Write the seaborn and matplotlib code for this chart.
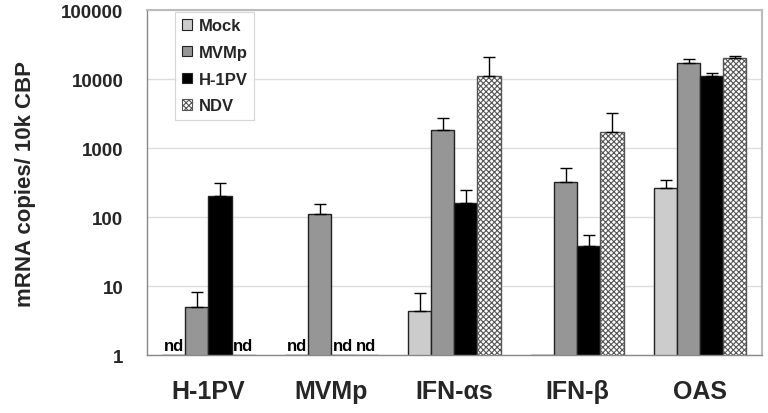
import numpy as np
import pandas as pd
import matplotlib
matplotlib.use("Agg")
import matplotlib.pyplot as plt
import seaborn as sns
from matplotlib.patches import Patch

genes = ["H-1PV", "MVMp", "IFN-\u03b1s", "IFN-\u03b2", "OAS"]
treatments = ["Mock", "MVMp", "H-1PV", "NDV"]
# mean values (None = not detected, "nd")
mock = [None, None, 4.3, 1.0, 260]
mvmp = [5.0, 112, 1820, 318, 16900]
h1pv = [205, None, 161, 38.5, 11000]
ndv = [None, None, 10900, 1690, 19900]
# upper end of error bars
mock_err = [None, None, 7.8, None, 344]
mvmp_err = [8.1, 156, 2720, 507, 19700]
h1pv_err = [308, None, 249, 55, 12300]
ndv_err = [None, None, 20600, 3180, 21300]

colors = {"Mock": "#cccccc", "MVMp": "#969696", "H-1PV": "#000000", "NDV": "#ffffff"}

series = {"Mock": mock, "MVMp": mvmp, "H-1PV": h1pv, "NDV": ndv}
errs = {"Mock": mock_err, "MVMp": mvmp_err, "H-1PV": h1pv_err, "NDV": ndv_err}

rows = []
for t in treatments:
    for g, v, e in zip(genes, series[t], errs[t]):
        rows.append({"gene": g, "treatment": t,
                     "value": np.nan if v is None else v,
                     "err": np.nan if e is None else e})
df = pd.DataFrame(rows)
df["plotval"] = df["value"].fillna(1.0)

sns.set_theme(style="white")
plt.rcParams["font.family"] = ["Liberation Sans", "DejaVu Sans"]
plt.rcParams["font.weight"] = "bold"
plt.rcParams["hatch.linewidth"] = 0.8

fig = plt.figure(figsize=(7.68, 4.14), dpi=100)
ax = fig.add_axes([0.1914, 0.140, 0.8006, 0.8334])
ax.set_yscale("log")

sns.barplot(data=df, x="gene", y="plotval", hue="treatment", order=genes,
            hue_order=treatments, palette=colors, width=0.75, gap=0,
            edgecolor="#222222", linewidth=1.0, ax=ax, legend=False,
            errorbar=None, saturation=1)

for cont, t in zip(ax.containers, treatments):
    sub = df[df.treatment == t].set_index("gene").loc[genes]
    for bar, (g, r) in zip(cont.patches, sub.iterrows()):
        xc = bar.get_x() + bar.get_width() / 2
        if t == "NDV":
            bar.set_hatch("xxxxxx")
            bar.set_edgecolor("#555555")
        if np.isnan(r["value"]):
            ax.text(xc, 1.07, "nd", ha="center", va="bottom", fontsize=12,
                    fontweight="bold", color="black")
        elif not np.isnan(r["err"]):
            ax.errorbar([xc], [r["value"]], yerr=[[0], [r["err"] - r["value"]]],
                        fmt="none", ecolor="black", elinewidth=1.0, capsize=4,
                        capthick=1.0, zorder=3)

ax.set_ylim(1, 100000)
ax.set_xlim(-0.5, 4.5)
ax.set_yticks([1, 10, 100, 1000, 10000, 100000])
ax.set_yticklabels(["1", "10", "100", "1000", "10000", "100000"])
ax.yaxis.set_minor_locator(matplotlib.ticker.NullLocator())
ax.grid(axis="y", which="major", color="#dddddd", linewidth=1.0)
ax.set_axisbelow(True)
ax.tick_params(axis="y", which="major", length=5, width=1, color="#888888",
               direction="out", labelsize=13.5, pad=12)
ax.tick_params(axis="x", which="major", length=0, labelsize=18, pad=17)
ax.set_xticks([0.5, 1.5, 2.5, 3.5], minor=True)
ax.tick_params(axis="x", which="minor", length=5, width=1, color="#bbbbbb",
               direction="out")
for lab in ax.get_xticklabels() + ax.get_yticklabels():
    lab.set_fontweight("bold")

for s in ["left", "bottom"]:
    ax.spines[s].set_color("#888888")
    ax.spines[s].set_linewidth(1.0)
for s in ["top", "right"]:
    ax.spines[s].set_color("#bbbbbb")
    ax.spines[s].set_linewidth(1.5)

ax.set_xlabel("")
ax.set_ylabel("mRNA copies/ 10k CBP", fontsize=16, fontweight="bold", labelpad=18)

handles = []
for t in treatments:
    p = Patch(facecolor=colors[t], edgecolor="#555555" if t == "NDV" else "#222222",
              linewidth=0.8, hatch="xxxxxx" if t == "NDV" else None, label=t)
    handles.append(p)
leg = ax.legend(handles=handles, loc="upper left", bbox_to_anchor=(0.046, 0.995),
                frameon=True, fancybox=False, edgecolor="#cccccc",
                handlelength=0.6, handleheight=0.6, handletextpad=0.4,
                labelspacing=0.7, borderpad=0.4, borderaxespad=0,
                prop={"weight": "bold", "size": 12})
leg.get_frame().set_linewidth(0.8)

fig.savefig("out.png", dpi=100)
